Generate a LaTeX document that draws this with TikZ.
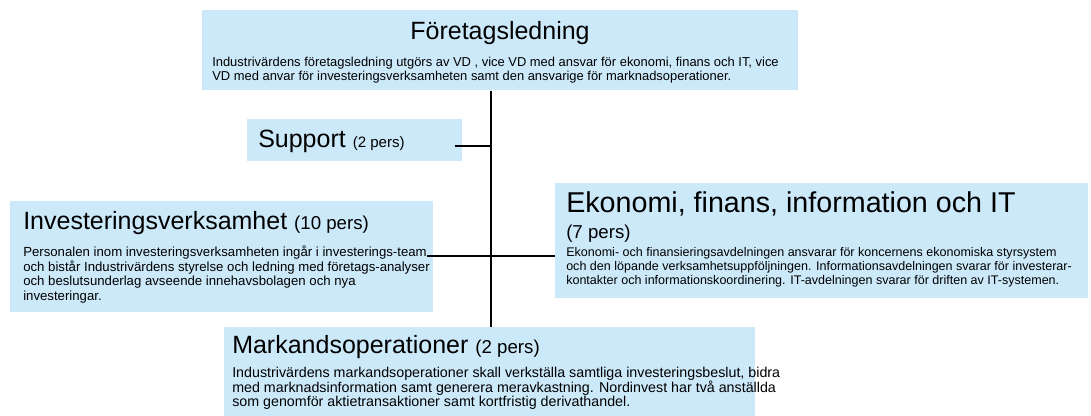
\documentclass[tikz,border=0pt]{standalone}
\usepackage{fontspec}
\setmainfont{Liberation Sans}
\definecolor{boxblue}{RGB}{204,233,250}
\newcommand\titlefont{\fontsize{18.75}{22}\selectfont}
\newcommand\ekotitlefont{\fontsize{21.5}{25}\selectfont}
\newcommand\persfont{\fontsize{14}{16}\selectfont}
\newcommand\smallpers{\fontsize{11.3}{13}\selectfont}
\newcommand\topbody{\fontsize{9.7}{10.5}\selectfont}
\newcommand\invbody{\fontsize{9.9}{10.8}\selectfont}
\newcommand\ekobody{\fontsize{9.4}{10.5}\selectfont}
\newcommand\mkbody{\fontsize{10.7}{10.5}\selectfont}
\begin{document}
\begin{tikzpicture}[x=0.75pt,y=-0.75pt,
  box/.style={fill=boxblue, draw=none, inner sep=0pt, anchor=north west},
  ttl/.style={inner sep=0pt, anchor=base west, font=\titlefont},
  body/.style={inner sep=0pt, anchor=base west},
  conn/.style={draw=black, line width=1.1pt}]
\useasboundingbox (0,0) rectangle (1091,416);
% boxes
\node[box, minimum width=447pt, minimum height=60pt] (top) at (202,10) {};
\node[box, minimum width=161.25pt, minimum height=31.5pt] (sup) at (247,119) {};
\node[box, minimum width=317.25pt, minimum height=83.25pt] (inv) at (10,201) {};
\node[box, minimum width=399.75pt, minimum height=86.25pt] (eko) at (555,183) {};
\node[box, minimum width=398.25pt, minimum height=70pt] (mk) at (224,327) {};
% connectors
\coordinate (spine) at (491,0);
\coordinate (s1) at (455,146);
\coordinate (i1) at (427,256);
\draw[conn] (top.south -| spine) -- (mk.north -| spine);
\draw[conn] (s1) -- (s1 -| spine);
\draw[conn] (i1) -- (i1 -| eko.west);
% texts
\node[ttl, anchor=base] (topT) at (500,40) {Företagsledning};
\node[body, font=\topbody] (topB) at (212,67) {\vtop{\hbox{Industrivärdens företagsledning utgörs av VD , vice VD med ansvar för ekonomi, finans och IT, vice}\hbox{VD med anvar för investeringsverksamheten samt den ansvarige för marknadsoperationer.}}};
\node[ttl] (supT) at (258,148) {Support \smallpers(2 pers)};
\node[ttl] (invT) at (23,230) {Investeringsverksamhet \persfont(10 pers)};
\node[body, font=\invbody] (invB) at (23,257) {\vtop{\hbox{Personalen inom investeringsverksamheten ingår i investerings-team}\hbox{och bistår Industrivärdens styrelse och ledning med företags-analyser}\hbox{och beslutsunderlag avseende innehavsbolagen och nya}\hbox{investeringar.}}};
\node[ttl, font=\ekotitlefont] (ekoT) at (566,213) {Ekonomi, finans, information och IT};
\node[inner sep=0pt, anchor=base west, font=\persfont] (ekoP) at (566,239) {(7 pers)};
\node[body, font=\ekobody] (ekoB) at (566,257) {\vtop{\hbox{Ekonomi- och finansieringsavdelningen ansvarar för koncernens ekonomiska styrsystem}\hbox{och den löpande verksamhetsuppföljningen. Informationsavdelningen svarar för investerar-}\hbox{kontakter och informationskoordinering. IT-avdelningen svarar för driften av IT-systemen.}}};
\node[ttl] (mkT) at (232,353) {Markandsoperationer \persfont(2 pers)};
\node[body, font=\mkbody] (mkB) at (232,377) {\vtop{\hbox{Industrivärdens markandsoperationer skall verkställa samtliga investeringsbeslut, bidra}\hbox{med marknadsinformation samt generera meravkastning. Nordinvest har två anställda}\hbox{som genomför aktietransaktioner samt kortfristig derivathandel.}}};
\end{tikzpicture}
\end{document}
